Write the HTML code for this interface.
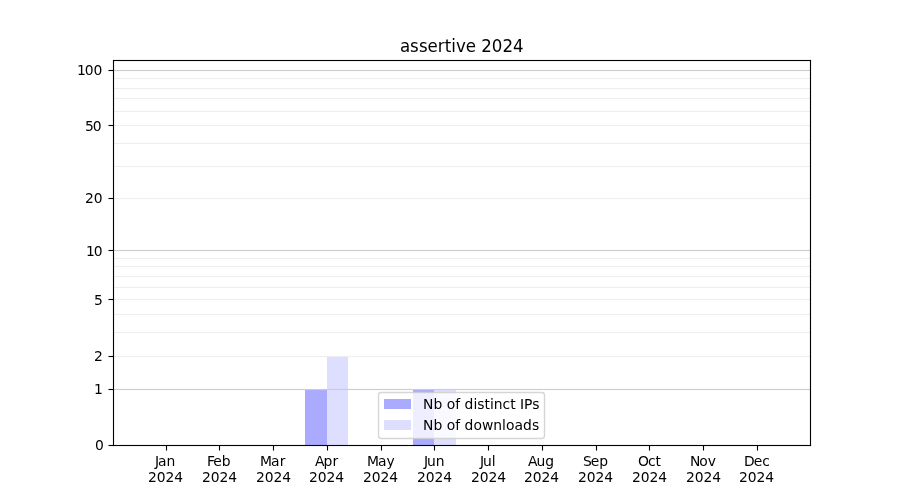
<!DOCTYPE html>
<html lang="en">
<head>
<meta charset="utf-8">
<title>assertive 2024</title>
<style>
html,body{margin:0;padding:0;background:#fff;}
body{width:900px;height:500px;overflow:hidden;}
svg{display:block;position:absolute;left:0;top:0;will-change:transform;}
text{font-family:"DejaVu Sans", "Liberation Sans", sans-serif;fill:#000;}
.t{font-size:13.889px;}
.title{font-size:16.667px;}
.c{shape-rendering:crispEdges;}
</style>
</head>
<body>
<svg width="900" height="500" viewBox="0 0 900 500">
<rect x="0" y="0" width="900" height="500" fill="#ffffff"/>
<g class="c">
<rect x="305" y="389" width="22" height="56" fill="#aaaaff"/>
<rect x="327" y="356" width="21" height="89" fill="#dedeff"/>
<rect x="413" y="389" width="21" height="56" fill="#aaaaff"/>
<rect x="434" y="389" width="22" height="56" fill="#dedeff"/>
</g>
<g class="c">
<rect x="114" y="77" width="696" height="3" fill="#eeeeee" fill-opacity="0.06"/><rect x="114" y="78" width="696" height="1" fill="#eeeeee"/>
<rect x="114" y="87" width="696" height="3" fill="#eeeeee" fill-opacity="0.06"/><rect x="114" y="88" width="696" height="1" fill="#eeeeee"/>
<rect x="114" y="97" width="696" height="3" fill="#eeeeee" fill-opacity="0.06"/><rect x="114" y="98" width="696" height="1" fill="#eeeeee"/>
<rect x="114" y="110" width="696" height="3" fill="#eeeeee" fill-opacity="0.06"/><rect x="114" y="111" width="696" height="1" fill="#eeeeee"/>
<rect x="114" y="124" width="696" height="3" fill="#eeeeee" fill-opacity="0.06"/><rect x="114" y="125" width="696" height="1" fill="#eeeeee"/>
<rect x="114" y="142" width="696" height="3" fill="#eeeeee" fill-opacity="0.06"/><rect x="114" y="143" width="696" height="1" fill="#eeeeee"/>
<rect x="114" y="165" width="696" height="3" fill="#eeeeee" fill-opacity="0.06"/><rect x="114" y="166" width="696" height="1" fill="#eeeeee"/>
<rect x="114" y="197" width="696" height="3" fill="#eeeeee" fill-opacity="0.06"/><rect x="114" y="198" width="696" height="1" fill="#eeeeee"/>
<rect x="114" y="257" width="696" height="3" fill="#eeeeee" fill-opacity="0.06"/><rect x="114" y="258" width="696" height="1" fill="#eeeeee"/>
<rect x="114" y="265" width="696" height="3" fill="#eeeeee" fill-opacity="0.06"/><rect x="114" y="266" width="696" height="1" fill="#eeeeee"/>
<rect x="114" y="275" width="696" height="3" fill="#eeeeee" fill-opacity="0.06"/><rect x="114" y="276" width="696" height="1" fill="#eeeeee"/>
<rect x="114" y="286" width="696" height="3" fill="#eeeeee" fill-opacity="0.06"/><rect x="114" y="287" width="696" height="1" fill="#eeeeee"/>
<rect x="114" y="298" width="696" height="3" fill="#eeeeee" fill-opacity="0.06"/><rect x="114" y="299" width="696" height="1" fill="#eeeeee"/>
<rect x="114" y="313" width="696" height="3" fill="#eeeeee" fill-opacity="0.06"/><rect x="114" y="314" width="696" height="1" fill="#eeeeee"/>
<rect x="114" y="331" width="696" height="3" fill="#eeeeee" fill-opacity="0.06"/><rect x="114" y="332" width="696" height="1" fill="#eeeeee"/>
<rect x="114" y="355" width="696" height="3" fill="#eeeeee" fill-opacity="0.06"/><rect x="114" y="356" width="696" height="1" fill="#eeeeee"/>
<rect x="114" y="69" width="696" height="3" fill="#cccccc" fill-opacity="0.06"/><rect x="114" y="70" width="696" height="1" fill="#cccccc"/>
<rect x="114" y="249" width="696" height="3" fill="#cccccc" fill-opacity="0.06"/><rect x="114" y="250" width="696" height="1" fill="#cccccc"/>
<rect x="114" y="388" width="696" height="3" fill="#cccccc" fill-opacity="0.06"/><rect x="114" y="389" width="696" height="1" fill="#cccccc"/>
</g>
<path d="M381.28,392.5 L541.72,392.5 Q544.5,392.5 544.5,395.28 L544.5,435.72 Q544.5,438.5 541.72,438.5 L381.28,438.5 Q378.5,438.5 378.5,435.72 L378.5,395.28 Q378.5,392.5 381.28,392.5 Z" fill="#ffffff" fill-opacity="0.8" stroke="#cccccc" stroke-opacity="0.8" stroke-width="1.39"/>
<g class="c"><rect x="384" y="399" width="27" height="10" fill="#aaaaff"/><rect x="384" y="420" width="27" height="10" fill="#dedeff"/></g>
<g class="c">
<rect x="108" y="69" width="1" height="3" fill="#000" fill-opacity="0.0275"/><rect x="108" y="70" width="1" height="1" fill="#000" fill-opacity="0.5"/><rect x="109" y="69" width="4" height="3" fill="#000000" fill-opacity="0.055"/><rect x="109" y="70" width="4" height="1" fill="#000000"/>
<rect x="108" y="124" width="1" height="3" fill="#000" fill-opacity="0.0275"/><rect x="108" y="125" width="1" height="1" fill="#000" fill-opacity="0.5"/><rect x="109" y="124" width="4" height="3" fill="#000000" fill-opacity="0.055"/><rect x="109" y="125" width="4" height="1" fill="#000000"/>
<rect x="108" y="197" width="1" height="3" fill="#000" fill-opacity="0.0275"/><rect x="108" y="198" width="1" height="1" fill="#000" fill-opacity="0.5"/><rect x="109" y="197" width="4" height="3" fill="#000000" fill-opacity="0.055"/><rect x="109" y="198" width="4" height="1" fill="#000000"/>
<rect x="108" y="249" width="1" height="3" fill="#000" fill-opacity="0.0275"/><rect x="108" y="250" width="1" height="1" fill="#000" fill-opacity="0.5"/><rect x="109" y="249" width="4" height="3" fill="#000000" fill-opacity="0.055"/><rect x="109" y="250" width="4" height="1" fill="#000000"/>
<rect x="108" y="298" width="1" height="3" fill="#000" fill-opacity="0.0275"/><rect x="108" y="299" width="1" height="1" fill="#000" fill-opacity="0.5"/><rect x="109" y="298" width="4" height="3" fill="#000000" fill-opacity="0.055"/><rect x="109" y="299" width="4" height="1" fill="#000000"/>
<rect x="108" y="355" width="1" height="3" fill="#000" fill-opacity="0.0275"/><rect x="108" y="356" width="1" height="1" fill="#000" fill-opacity="0.5"/><rect x="109" y="355" width="4" height="3" fill="#000000" fill-opacity="0.055"/><rect x="109" y="356" width="4" height="1" fill="#000000"/>
<rect x="108" y="388" width="1" height="3" fill="#000" fill-opacity="0.0275"/><rect x="108" y="389" width="1" height="1" fill="#000" fill-opacity="0.5"/><rect x="109" y="388" width="4" height="3" fill="#000000" fill-opacity="0.055"/><rect x="109" y="389" width="4" height="1" fill="#000000"/>
<rect x="108" y="444" width="1" height="3" fill="#000" fill-opacity="0.0275"/><rect x="108" y="445" width="1" height="1" fill="#000" fill-opacity="0.5"/><rect x="109" y="444" width="4" height="3" fill="#000000" fill-opacity="0.055"/><rect x="109" y="445" width="4" height="1" fill="#000000"/>
<rect x="165" y="450" width="3" height="1" fill="#000" fill-opacity="0.0275"/><rect x="166" y="450" width="1" height="1" fill="#000" fill-opacity="0.5"/><rect x="165" y="446" width="3" height="4" fill="#000000" fill-opacity="0.055"/><rect x="166" y="446" width="1" height="4" fill="#000000"/>
<rect x="218" y="450" width="3" height="1" fill="#000" fill-opacity="0.0275"/><rect x="219" y="450" width="1" height="1" fill="#000" fill-opacity="0.5"/><rect x="218" y="446" width="3" height="4" fill="#000000" fill-opacity="0.055"/><rect x="219" y="446" width="1" height="4" fill="#000000"/>
<rect x="272" y="450" width="3" height="1" fill="#000" fill-opacity="0.0275"/><rect x="273" y="450" width="1" height="1" fill="#000" fill-opacity="0.5"/><rect x="272" y="446" width="3" height="4" fill="#000000" fill-opacity="0.055"/><rect x="273" y="446" width="1" height="4" fill="#000000"/>
<rect x="326" y="450" width="3" height="1" fill="#000" fill-opacity="0.0275"/><rect x="327" y="450" width="1" height="1" fill="#000" fill-opacity="0.5"/><rect x="326" y="446" width="3" height="4" fill="#000000" fill-opacity="0.055"/><rect x="327" y="446" width="1" height="4" fill="#000000"/>
<rect x="380" y="450" width="3" height="1" fill="#000" fill-opacity="0.0275"/><rect x="381" y="450" width="1" height="1" fill="#000" fill-opacity="0.5"/><rect x="380" y="446" width="3" height="4" fill="#000000" fill-opacity="0.055"/><rect x="381" y="446" width="1" height="4" fill="#000000"/>
<rect x="433" y="450" width="3" height="1" fill="#000" fill-opacity="0.0275"/><rect x="434" y="450" width="1" height="1" fill="#000" fill-opacity="0.5"/><rect x="433" y="446" width="3" height="4" fill="#000000" fill-opacity="0.055"/><rect x="434" y="446" width="1" height="4" fill="#000000"/>
<rect x="487" y="450" width="3" height="1" fill="#000" fill-opacity="0.0275"/><rect x="488" y="450" width="1" height="1" fill="#000" fill-opacity="0.5"/><rect x="487" y="446" width="3" height="4" fill="#000000" fill-opacity="0.055"/><rect x="488" y="446" width="1" height="4" fill="#000000"/>
<rect x="541" y="450" width="3" height="1" fill="#000" fill-opacity="0.0275"/><rect x="542" y="450" width="1" height="1" fill="#000" fill-opacity="0.5"/><rect x="541" y="446" width="3" height="4" fill="#000000" fill-opacity="0.055"/><rect x="542" y="446" width="1" height="4" fill="#000000"/>
<rect x="595" y="450" width="3" height="1" fill="#000" fill-opacity="0.0275"/><rect x="596" y="450" width="1" height="1" fill="#000" fill-opacity="0.5"/><rect x="595" y="446" width="3" height="4" fill="#000000" fill-opacity="0.055"/><rect x="596" y="446" width="1" height="4" fill="#000000"/>
<rect x="648" y="450" width="3" height="1" fill="#000" fill-opacity="0.0275"/><rect x="649" y="450" width="1" height="1" fill="#000" fill-opacity="0.5"/><rect x="648" y="446" width="3" height="4" fill="#000000" fill-opacity="0.055"/><rect x="649" y="446" width="1" height="4" fill="#000000"/>
<rect x="702" y="450" width="3" height="1" fill="#000" fill-opacity="0.0275"/><rect x="703" y="450" width="1" height="1" fill="#000" fill-opacity="0.5"/><rect x="702" y="446" width="3" height="4" fill="#000000" fill-opacity="0.055"/><rect x="703" y="446" width="1" height="4" fill="#000000"/>
<rect x="756" y="450" width="3" height="1" fill="#000" fill-opacity="0.0275"/><rect x="757" y="450" width="1" height="1" fill="#000" fill-opacity="0.5"/><rect x="756" y="446" width="3" height="4" fill="#000000" fill-opacity="0.055"/><rect x="757" y="446" width="1" height="4" fill="#000000"/>
</g>
<g fill="#000000"><rect x="112.945" y="59.945" width="1.11" height="386.11"/><rect x="809.945" y="59.945" width="1.11" height="386.11"/><rect x="112.945" y="59.945" width="698.11" height="1.11"/><rect x="112.945" y="444.945" width="698.11" height="1.11"/></g>
<text class="t" x="423.10 433.48 442.35 446.73 455.23 460.23 464.60 473.48 477.35 484.48 489.98 493.85 502.60 510.23 515.73 520.10 524.10 532.23" y="409.0">Nb of distinct IPs</text>
<text class="t" x="423.10 433.48 442.35 446.73 455.23 460.23 464.60 473.48 481.98 493.35 502.10 505.98 514.48 523.10 531.98" y="430.0">Nb of downloads</text>
<text class="title" x="400.00 410.12 418.88 427.62 437.88 444.75 451.25 455.88 465.75 476.00 481.25 491.88 502.38 513.00" y="0" transform="translate(0,52.0) scale(1,1.083)">assertive 2024</text>
<text class="t" x="154.95 157.95 166.57" y="466.0">Jan</text><text class="t" x="147.95 156.70 165.45 174.20" y="481.5">2024</text>
<text class="t" x="206.94 213.19 221.69" y="466.0">Feb</text><text class="t" x="201.94 210.69 219.44 228.19" y="481.5">2024</text>
<text class="t" x="260.12 271.12 279.75" y="466.0">Mar</text><text class="t" x="255.92 264.67 273.42 282.17" y="481.5">2024</text>
<text class="t" x="315.01 323.51 332.39" y="466.0">Apr</text><text class="t" x="308.91 317.66 326.41 335.16" y="481.5">2024</text>
<text class="t" x="367.00 378.00 386.62" y="466.0">May</text><text class="t" x="362.90 371.65 380.40 389.15" y="481.5">2024</text>
<text class="t" x="424.03 427.03 435.78" y="466.0">Jun</text><text class="t" x="416.88 425.63 434.38 443.13" y="481.5">2024</text>
<text class="t" x="480.07 483.07 491.82" y="466.0">Jul</text><text class="t" x="471.12 479.87 488.62 497.37" y="481.5">2024</text>
<text class="t" x="528.10 536.60 545.35" y="466.0">Aug</text><text class="t" x="524.10 532.85 541.60 550.35" y="481.5">2024</text>
<text class="t" x="583.04 590.79 599.29" y="466.0">Sep</text><text class="t" x="578.09 586.84 595.59 604.34" y="481.5">2024</text>
<text class="t" x="638.08 647.96 655.58" y="466.0">Oct</text><text class="t" x="632.08 640.83 649.58 658.33" y="481.5">2024</text>
<text class="t" x="689.91 699.28 707.78" y="466.0">Nov</text><text class="t" x="686.06 694.81 703.56 712.31" y="481.5">2024</text>
<text class="t" x="743.95 753.70 762.20" y="466.0">Dec</text><text class="t" x="739.05 747.80 756.55 765.30" y="481.5">2024</text>
<text class="t" x="95.05" y="450.00">0</text>
<text class="t" x="93.92" y="394.00">1</text>
<text class="t" x="94.05" y="361.00">2</text>
<text class="t" x="94.05" y="305.00">5</text>
<text class="t" x="85.92 93.80" y="256.00">10</text>
<text class="t" x="85.05 93.80" y="203.00">20</text>
<text class="t" x="85.05 92.80" y="131.00">50</text>
<text class="t" x="76.92 84.80 93.55" y="75.00">100</text>
</svg>
</body>
</html>
